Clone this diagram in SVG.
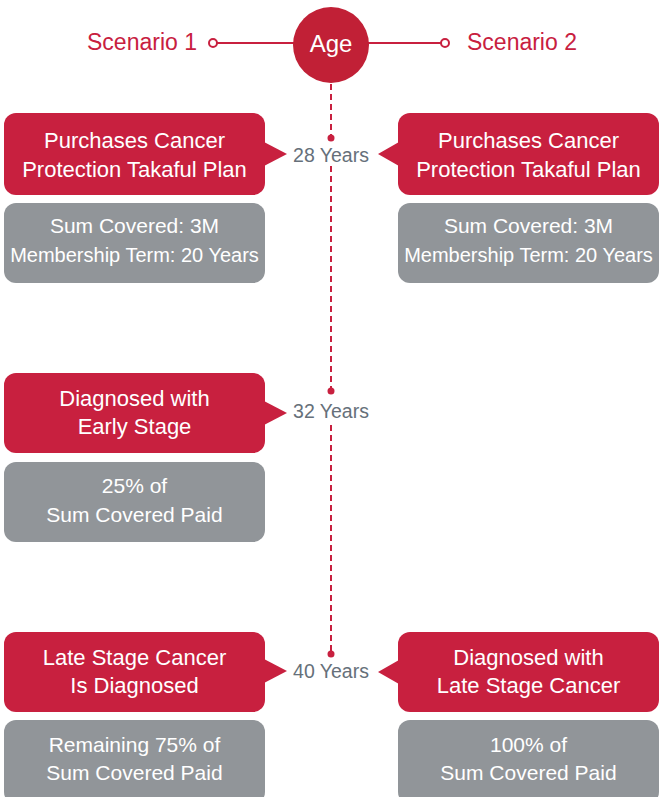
<svg xmlns="http://www.w3.org/2000/svg" width="663" height="797" viewBox="0 0 663 797">
<style>
.red{fill:#c8203f}
.gray{fill:#919599}
.wt{fill:#ffffff;font-family:"Liberation Sans",Arial,sans-serif;font-size:22px;text-anchor:middle}
.gt{fill:#ffffff;font-family:"Liberation Sans",Arial,sans-serif;font-size:21px;text-anchor:middle}
.gs{fill:#ffffff;font-family:"Liberation Sans",Arial,sans-serif;font-size:20px;text-anchor:middle}
.yr{fill:#66707a;font-family:"Liberation Sans",Arial,sans-serif;font-size:19.5px;text-anchor:middle}
.sc{fill:#c8203f;font-family:"Liberation Sans",Arial,sans-serif;font-size:23px}
.dash{stroke:#c8203f;stroke-width:2;stroke-dasharray:6 4;fill:none}
</style>
<rect width="663" height="797" fill="#ffffff"/>
<g id="connectors">
<line x1="213" y1="43" x2="445" y2="43" stroke="#c8203f" stroke-width="2"/>
<circle cx="213" cy="43" r="4" fill="#ffffff" stroke="#c8203f" stroke-width="2"/>
<circle cx="445" cy="43" r="4" fill="#ffffff" stroke="#c8203f" stroke-width="2"/>
<line class="dash" x1="331" y1="84" x2="331" y2="138"/>
<line class="dash" x1="331" y1="166" x2="331" y2="391"/>
<line class="dash" x1="331" y1="425" x2="331" y2="654"/>
<circle cx="331" cy="138" r="3.5" fill="#c8203f"/>
<circle cx="331" cy="391" r="3.5" fill="#c8203f"/>
<circle cx="331" cy="654" r="3.5" fill="#c8203f"/>
</g>
<g id="age">
<circle cx="331" cy="45" r="38" fill="#c12036"/>
<text x="331" y="52" fill="#ffffff" font-family="'Liberation Sans',Arial,sans-serif" font-size="24" text-anchor="middle">Age</text>
</g>
<g id="scenario1"><text class="sc" x="197" y="50" text-anchor="end">Scenario 1</text></g>
<g id="scenario2"><text class="sc" x="467" y="50">Scenario 2</text></g>
<g id="y28"><text class="yr" x="331" y="162">28 Years</text></g>
<g id="y32"><text class="yr" x="331" y="418">32 Years</text></g>
<g id="y40"><text class="yr" x="331" y="678">40 Years</text></g>
<g id="s1-purchase">
<rect class="red" x="4" y="113" width="261" height="82" rx="12"/>
<polygon class="red" points="264,142 287,154 264,166"/>
<text class="wt" x="134.5" y="148">Purchases Cancer</text>
<text class="wt" x="134.5" y="177">Protection Takaful Plan</text>
</g>
<g id="s1-sum">
<rect class="gray" x="4" y="203" width="261" height="80" rx="12"/>
<text class="gt" x="134.5" y="233">Sum Covered: 3M</text>
<text class="gs" x="134.5" y="262">Membership Term: 20 Years</text>
</g>
<g id="s2-purchase">
<rect class="red" x="398" y="113" width="261" height="82" rx="12"/>
<polygon class="red" points="399,142 378,154 399,166"/>
<text class="wt" x="528.5" y="148">Purchases Cancer</text>
<text class="wt" x="528.5" y="177">Protection Takaful Plan</text>
</g>
<g id="s2-sum">
<rect class="gray" x="398" y="203" width="261" height="80" rx="12"/>
<text class="gt" x="528.5" y="233">Sum Covered: 3M</text>
<text class="gs" x="528.5" y="262">Membership Term: 20 Years</text>
</g>
<g id="s1-early">
<rect class="red" x="4" y="373" width="261" height="80" rx="12"/>
<polygon class="red" points="264,401 287,413 264,425"/>
<text class="wt" x="134.5" y="406">Diagnosed with</text>
<text class="wt" x="134.5" y="434">Early Stage</text>
</g>
<g id="s1-25">
<rect class="gray" x="4" y="462" width="261" height="80" rx="12"/>
<text class="gt" x="134.5" y="493">25% of</text>
<text class="gt" x="134.5" y="522">Sum Covered Paid</text>
</g>
<g id="s1-late">
<rect class="red" x="4" y="632" width="261" height="80" rx="12"/>
<polygon class="red" points="264,659 287,671 264,683"/>
<text class="wt" x="134.5" y="665">Late Stage Cancer</text>
<text class="wt" x="134.5" y="693">Is Diagnosed</text>
</g>
<g id="s1-75">
<rect class="gray" x="4" y="720" width="261" height="84" rx="12"/>
<text class="gt" x="134.5" y="752">Remaining 75% of</text>
<text class="gt" x="134.5" y="780">Sum Covered Paid</text>
</g>
<g id="s2-late">
<rect class="red" x="398" y="632" width="261" height="80" rx="12"/>
<polygon class="red" points="399,660 378,672 399,684"/>
<text class="wt" x="528.5" y="665">Diagnosed with</text>
<text class="wt" x="528.5" y="693">Late Stage Cancer</text>
</g>
<g id="s2-100">
<rect class="gray" x="398" y="720" width="261" height="84" rx="12"/>
<text class="gt" x="528.5" y="752">100% of</text>
<text class="gt" x="528.5" y="780">Sum Covered Paid</text>
</g>
</svg>
